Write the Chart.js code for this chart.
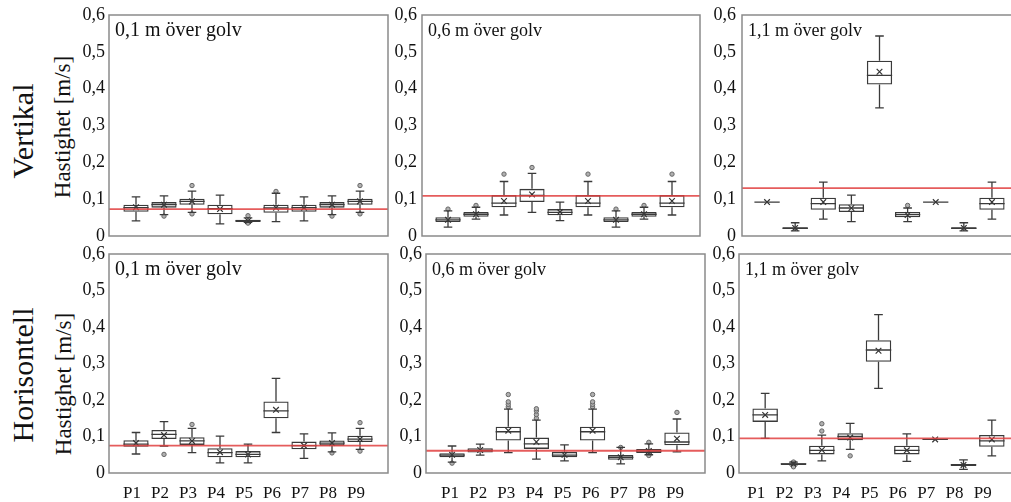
<!DOCTYPE html>
<html><head><meta charset="utf-8">
<script src="https://cdn.jsdelivr.net/npm/chart.js@4"></script>
<style>
html,body{margin:0;padding:0;width:1011px;height:502px;overflow:hidden;background:#fff;}
.c{position:absolute;}
.lbl{position:absolute;font-family:'Liberation Serif',serif;color:#111;white-space:nowrap;transform:translate(-50%,-50%) rotate(-90deg);line-height:1;}
</style></head><body>
<div class="lbl" style="left:23px;top:131px;font-size:30px">Vertikal</div>
<div class="lbl" style="left:62px;top:127px;font-size:23px">Hastighet [m/s]</div>
<div class="lbl" style="left:23px;top:375px;font-size:30px">Horisontell</div>
<div class="lbl" style="left:63px;top:384px;font-size:23px">Hastighet [m/s]</div>
<div id="wrap"></div>
<script>
// ---------- DATA ----------
const categories = ['P1','P2','P3','P4','P5','P6','P7','P8','P9'];
const yTickLabels = ['0','0,1','0,2','0,3','0,4','0,5','0,6'];
const panelTitles = ['0,1 m över golv','0,6 m över golv','1,1 m över golv','0,1 m över golv','0,6 m över golv','1,1 m över golv'];

// rows: [min, q1, median, q3, max, mean]
const vert01 = [
  [0.041,0.066,0.077,0.085,0.106,0.078],
  [0.058,0.077,0.085,0.092,0.109,0.085],
  [0.064,0.085,0.094,0.101,0.122,0.094],
  [0.033,0.059,0.074,0.085,0.111,0.073],
  [0.037,0.038,0.041,0.044,0.049,0.041],
  [0.039,0.063,0.076,0.085,0.116,0.077],
  [0.041,0.066,0.077,0.085,0.106,0.077],
  [0.058,0.077,0.085,0.092,0.109,0.085],
  [0.064,0.085,0.094,0.101,0.122,0.094]
];
const vert01Out = [[1,0.054],[2,0.137],[2,0.060],[4,0.055],[4,0.035],[5,0.121],[7,0.054],[8,0.137],[8,0.060]];
const vert01Ref = 0.073;

const vert06 = [
  [0.024,0.038,0.044,0.051,0.068,0.044],
  [0.046,0.052,0.059,0.065,0.078,0.059],
  [0.057,0.078,0.089,0.111,0.148,0.095],
  [0.064,0.092,0.110,0.128,0.170,0.113],
  [0.042,0.056,0.064,0.073,0.092,0.065],
  [0.057,0.078,0.089,0.111,0.148,0.095],
  [0.024,0.038,0.044,0.051,0.068,0.044],
  [0.046,0.052,0.059,0.065,0.078,0.059],
  [0.057,0.078,0.089,0.111,0.148,0.095]
];
const vert06Out = [[0,0.073],[1,0.083],[2,0.168],[3,0.186],[5,0.168],[6,0.073],[7,0.083],[8,0.168]];
const vert06Ref = 0.109;

const vert11 = [
  [0.092,0.092,0.092,0.092,0.092,0.092],
  [0.014,0.019,0.021,0.024,0.036,0.022],
  [0.046,0.071,0.088,0.104,0.146,0.092],
  [0.039,0.065,0.076,0.086,0.111,0.076],
  [0.348,0.411,0.436,0.476,0.543,0.446],
  [0.039,0.051,0.058,0.065,0.076,0.057],
  [0.092,0.092,0.092,0.092,0.092,0.092],
  [0.014,0.019,0.021,0.024,0.036,0.022],
  [0.046,0.071,0.088,0.104,0.146,0.092]
];
const vert11Out = [[5,0.083]];
const vert11Ref = 0.130;

const hor01 = [
  [0.052,0.072,0.079,0.090,0.111,0.082],
  [0.074,0.093,0.106,0.118,0.141,0.104],
  [0.056,0.077,0.088,0.098,0.122,0.088],
  [0.028,0.043,0.056,0.068,0.101,0.057],
  [0.028,0.043,0.051,0.060,0.079,0.051],
  [0.111,0.150,0.170,0.196,0.259,0.173],
  [0.040,0.065,0.075,0.086,0.107,0.075],
  [0.058,0.075,0.082,0.089,0.110,0.082],
  [0.065,0.085,0.093,0.102,0.122,0.093]
];
const hor01Out = [[1,0.051],[2,0.133],[7,0.055],[8,0.138],[8,0.060]];
const hor01Ref = 0.075;

const hor06 = [
  [0.030,0.043,0.049,0.054,0.074,0.050],
  [0.049,0.056,0.062,0.068,0.079,0.063],
  [0.056,0.089,0.113,0.127,0.175,0.116],
  [0.038,0.066,0.080,0.097,0.145,0.085],
  [0.033,0.043,0.049,0.058,0.077,0.050],
  [0.056,0.089,0.113,0.127,0.175,0.116],
  [0.025,0.036,0.043,0.049,0.070,0.043],
  [0.050,0.055,0.060,0.066,0.080,0.060],
  [0.058,0.076,0.085,0.111,0.148,0.094]
];
const hor06Out = [[0,0.027],[2,0.181],[2,0.188],[2,0.195],[2,0.215],[3,0.150],[3,0.160],[3,0.170],[3,0.176],
  [5,0.181],[5,0.188],[5,0.195],[5,0.215],[6,0.070],[7,0.084],[7,0.048],[8,0.166]];
const hor06Ref = 0.061;

const hor11 = [
  [0.095,0.140,0.159,0.177,0.218,0.159],
  [0.022,0.022,0.025,0.027,0.030,0.025],
  [0.033,0.051,0.062,0.075,0.104,0.063],
  [0.065,0.090,0.100,0.109,0.136,0.097],
  [0.232,0.305,0.337,0.364,0.434,0.335],
  [0.032,0.051,0.062,0.075,0.107,0.062],
  [0.092,0.092,0.092,0.092,0.092,0.092],
  [0.010,0.019,0.022,0.025,0.036,0.022],
  [0.047,0.072,0.088,0.104,0.145,0.092]
];
const hor11Out = [[1,0.017],[1,0.030],[2,0.115],[2,0.135],[3,0.047]];
const hor11Ref = 0.095;

// ---------- LAYOUT ----------
const FONT = "'Liberation Serif', 'Times New Roman', serif";
const PADV = 16;
const panels = [
  {rows:vert01, out:vert01Out, ref:vert01Ref, title:panelTitles[0], tSize:20, frameL:109, frameR:388, catL:122, catR:374, top:15, bottom:236, xLabels:false, lblOff:0, gap:4},
  {rows:vert06, out:vert06Out, ref:vert06Ref, title:panelTitles[1], tSize:18, frameL:422, frameR:700, catL:434, catR:686, top:15, bottom:236, xLabels:false, lblOff:0, gap:5},
  {rows:vert11, out:vert11Out, ref:vert11Ref, title:panelTitles[2], tSize:18, frameL:742, frameR:1012, catL:753, catR:1006, top:15, bottom:236, xLabels:false, lblOff:0, gap:6},
  {rows:hor01, out:hor01Out, ref:hor01Ref, title:panelTitles[3], tSize:20, frameL:109, frameR:388, catL:122, catR:374, top:254, bottom:473, xLabels:true, lblOff:-4, gap:4},
  {rows:hor06, out:hor06Out, ref:hor06Ref, title:panelTitles[4], tSize:18, frameL:426, frameR:705, catL:438, catR:691, top:254, bottom:473, xLabels:true, lblOff:-2, gap:4},
  {rows:hor11, out:hor11Out, ref:hor11Ref, title:panelTitles[5], tSize:18, frameL:739, frameR:1012, catL:751, catR:1006, top:254, bottom:473, xLabels:true, lblOff:-9, gap:4}
];

const boxPlugin = {
  id:'boxExtras',
  afterDatasetsDraw(chart, args, o){
    const ctx = chart.ctx, a = chart.chartArea, x = chart.scales.x, y = chart.scales.y;
    const meta = chart.getDatasetMeta(0);
    ctx.save();
    ctx.strokeStyle = '#3a3a3a';
    ctx.lineWidth = 1.3;
    o.rows.forEach((r,i)=>{
      const cx = x.getPixelForValue(i);
      const bw = meta.data[i].width;
      const cap = bw*0.34;
      const pMin = y.getPixelForValue(r[0]), pQ1 = y.getPixelForValue(r[1]);
      const pMed = y.getPixelForValue(r[2]), pQ3 = y.getPixelForValue(r[3]);
      const pMax = y.getPixelForValue(r[4]);
      ctx.beginPath();
      ctx.moveTo(cx,pQ3); ctx.lineTo(cx,pMax);
      ctx.moveTo(cx-cap/2,pMax); ctx.lineTo(cx+cap/2,pMax);
      ctx.moveTo(cx,pQ1); ctx.lineTo(cx,pMin);
      ctx.moveTo(cx-cap/2,pMin); ctx.lineTo(cx+cap/2,pMin);
      ctx.moveTo(cx-bw/2,pMed); ctx.lineTo(cx+bw/2,pMed);
      ctx.stroke();
    });
    const fL = a.left - o.insetL, fR = a.right + o.insetR;
    const py = y.getPixelForValue(o.ref);
    ctx.strokeStyle = 'rgba(224,64,64,0.85)';
    ctx.lineWidth = 1.8;
    ctx.beginPath(); ctx.moveTo(fL,py); ctx.lineTo(fR,py); ctx.stroke();
    ctx.strokeStyle = '#8a8a8a';
    ctx.lineWidth = 1.5;
    ctx.strokeRect(fL, a.top, fR-fL, a.bottom-a.top);
    ctx.fillStyle = '#111';
    ctx.font = o.tSize + 'px ' + FONT;
    ctx.textBaseline = 'alphabetic';
    ctx.textAlign = 'left';
    ctx.fillText(o.title, fL+6, a.top+21);
    ctx.restore();
  }
};

const wrap = document.getElementById('wrap');
panels.forEach((p, k)=>{
  const cl = p.frameL - 40;
  const cr = p.frameR + 2;
  const ct = p.top - PADV;
  const ch = (p.bottom - p.top) + PADV + (p.xLabels ? 29 : PADV);
  const div = document.createElement('div');
  div.className = 'c';
  div.style.left = cl + 'px'; div.style.top = ct + 'px';
  div.style.width = (cr - cl) + 'px'; div.style.height = ch + 'px';
  const cv = document.createElement('canvas');
  div.appendChild(cv); wrap.appendChild(div);
  const yW = p.catL - cl;
  new Chart(cv, {
    type:'bar',
    data:{
      labels: categories,
      datasets:[
        {type:'bar', data:p.rows.map(r=>[r[1],r[3]]), backgroundColor:'rgba(255,255,255,0)', borderColor:'#3a3a3a',
         borderWidth:1.3, borderSkipped:false, barPercentage:0.9, categoryPercentage:1, order:3},
        {type:'line', data:p.rows.map((r,i)=>({x:categories[i], y:r[5]})), showLine:false, pointStyle:'crossRot',
         pointRadius:4, borderColor:'#333', backgroundColor:'#333', borderWidth:1.2, order:1},
        {type:'line', data:p.out.map(q=>({x:categories[q[0]], y:q[1]})), showLine:false, pointStyle:'circle',
         pointRadius:2.2, borderColor:'#666', backgroundColor:'#b0b0b0', borderWidth:1, order:2}
      ]
    },
    options:{
      animation:false, responsive:true, maintainAspectRatio:false, events:[],
      layout:{padding:{top:PADV, right:cr - p.catR, bottom:p.xLabels ? 0 : PADV, left:0}},
      plugins:{legend:{display:false}, tooltip:{enabled:false},
        boxExtras:{rows:p.rows, ref:p.ref, title:p.title, tSize:p.tSize, insetL:p.catL - p.frameL, insetR:p.frameR - p.catR}},
      scales:{
        x:{type:'category', offset:true, display:p.xLabels,
           grid:{display:false, drawTicks:false}, border:{display:false},
           ticks:{padding:10, color:'#111', font:{family:FONT, size:17}, maxRotation:0, autoSkip:false, labelOffset:p.lblOff},
           afterFit(s){ s.height = p.xLabels ? 29 : 0; }},
        y:{min:0, max:0.6,
           grid:{display:true, drawOnChartArea:false, drawTicks:true, tickLength:(p.catL - p.frameL) + p.gap - 4, color:'rgba(0,0,0,0)'},
           border:{display:false},
           ticks:{stepSize:0.1, padding:4, color:'#111', font:{family:FONT, size:18},
                  callback:(v,i)=>yTickLabels[i]},
           afterFit(s){ s.width = yW; }}
      }
    },
    plugins:[boxPlugin]
  });
});
</script>
</body></html>
